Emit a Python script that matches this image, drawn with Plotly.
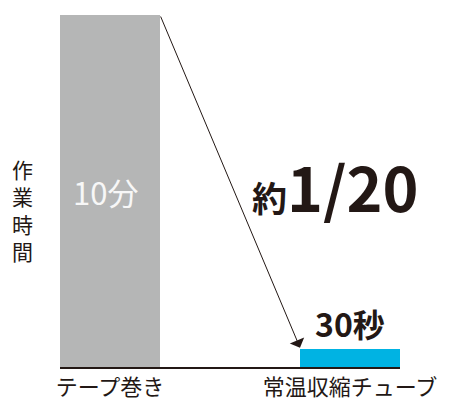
import plotly.graph_objects as go

# ---- data ----
categories = ["テープ巻き", "常温収縮チューブ"]
seconds = [600, 30]            # 10分 = 600秒, 30秒
inside_label = "10分"
outside_label = "<b>30秒</b>"
ratio_label = "<b><span style='font-size:35px'>約</span>1/20</b>"
y_title = "作<br>業<br>時<br>間"

# ---- styles ----
FONT = "Noto Sans CJK JP"
DARK = "#231815"
GRAY = "#b5b6b6"
CYAN = "#00b3e3"
BAR_W = 100 / 240
PAD = BAR_W / 2

fig = go.Figure()
fig.add_trace(go.Bar(
    x=categories, y=seconds,
    width=[BAR_W, BAR_W],
    marker=dict(color=[GRAY, CYAN], line=dict(width=0)),
    cliponaxis=False,
    hoverinfo="skip",
))

# value label in the middle of the tall bar
fig.add_annotation(
    x=categories[0], y=seconds[0] / 2, xref="x", yref="y",
    text=inside_label, showarrow=False,
    font=dict(family=FONT, size=31, color="#f7f7f7"),
    xanchor="center", yanchor="middle", xshift=-5,
)

# value label above the small bar
fig.add_annotation(
    x=categories[1], y=seconds[1], xref="x", yref="y",
    text=outside_label, showarrow=False,
    font=dict(family=FONT, size=32, color=DARK),
    xanchor="center", yanchor="bottom", yshift=1,
)

# arrow from top of first bar to top of second bar
fig.add_annotation(
    x=1 - PAD, y=seconds[1] + 3, xref="x", yref="y",
    ax=0 + PAD, ay=seconds[0], axref="x", ayref="y",
    text="", showarrow=True,
    arrowhead=1, arrowsize=2.6, arrowwidth=1, arrowcolor=DARK,
    standoff=0, startstandoff=0,
)

# ratio label
fig.add_annotation(
    x=0.81, y=0.515, xref="paper", yref="paper",
    text=ratio_label, showarrow=False,
    font=dict(family=FONT, size=61, color=DARK),
    xanchor="center", yanchor="middle",
)

# vertical y-axis title
fig.add_annotation(
    x=0, y=0.5, xref="paper", yref="paper",
    xshift=-38, yshift=-19,
    text=y_title, showarrow=False,
    font=dict(family=FONT, size=21, color=DARK),
    xanchor="center", yanchor="middle",
)

# page body has an 8px margin: figure is offset by (8, 8) in the window
fig.update_layout(
    width=442, height=392,
    margin=dict(l=52, r=50, t=7, b=33, autoexpand=False),
    paper_bgcolor="white", plot_bgcolor="white",
    showlegend=False,
    bargap=0,
    font=dict(family=FONT, color=DARK),
    xaxis=dict(
        type="category",
        range=[-PAD, 1 + PAD],
        automargin=False,
        showline=True, linecolor=DARK, linewidth=1.5,
        showgrid=False, zeroline=False, ticks="",
        tickfont=dict(family=FONT, size=22, color=DARK),
        fixedrange=True,
    ),
    yaxis=dict(
        range=[0, 600], visible=False, showgrid=False, zeroline=False,
        automargin=False, fixedrange=True,
    ),
)

fig.write_html("out.html")
